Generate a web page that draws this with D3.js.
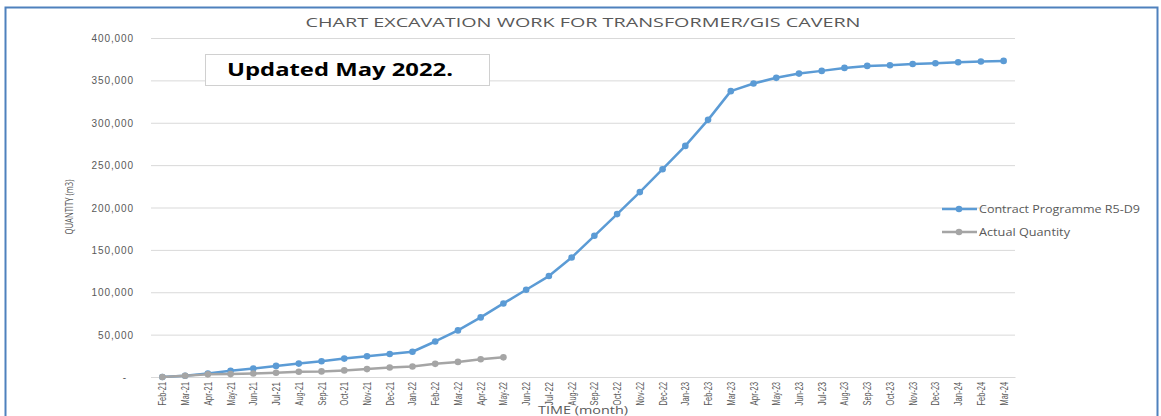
<!DOCTYPE html>
<html>
<head>
<meta charset="UTF-8">
<title>Excavation chart</title>
<script src="https://d3js.org/d3.v7.min.js"></script>
<style>
body { margin: 0; background: #fff; }
svg { font-family: "Open Sans", "DejaVu Sans", sans-serif; }
.grid line { stroke: #d9d9d9; stroke-width: 1; }
</style>
</head>
<body>
<svg width="1161" height="416"></svg>
<script>
// months on the x axis
var months = ["Feb-21","Mar-21","Apr-21","May-21","Jun-21","Jul-21","Aug-21","Sep-21","Oct-21","Nov-21","Dec-21",
  "Jan-22","Feb-22","Mar-22","Apr-22","May-22","Jun-22","Jul-22","Aug-22","Sep-22","Oct-22","Nov-22","Dec-22",
  "Jan-23","Feb-23","Mar-23","Apr-23","May-23","Jun-23","Jul-23","Aug-23","Sep-23","Oct-23","Nov-23","Dec-23",
  "Jan-24","Feb-24","Mar-24"];

// Contract Programme R5-D9 (m3, cumulative)
var contractQty = [0, 1500, 4200, 7300, 10000, 13100, 15800, 18600, 21700, 24400, 27100,
  29800, 41900, 55000, 70300, 86800, 103000, 119100, 141000, 166600, 192200, 218200, 245200,
  272700, 303400, 337300, 346300, 353000, 358000, 361200, 364700, 367100, 367900, 369400, 370200,
  371400, 372200, 373000];

// Actual Quantity (up to May-22)
var actualQty = [0, 1500, 3100, 3400, 4200, 5000, 6200, 6600, 7800, 9300, 11200,
  12400, 15500, 17800, 20900, 23200];

var yTicks = [0, 50000, 100000, 150000, 200000, 250000, 300000, 350000, 400000];

var svg = d3.select("svg");

// outer frame
svg.append("rect")
  .attr("x", 5.5).attr("y", 7.5)
  .attr("width", 1152).attr("height", 420)
  .attr("fill", "none")
  .attr("stroke", "#4f81bd")
  .attr("stroke-width", 2);

var margin = {top: 38, left: 151},
    width = 864,
    height = 339;

var g = svg.append("g")
  .attr("transform", "translate(" + margin.left + "," + margin.top + ")");

var x = d3.scalePoint()
  .domain(months)
  .range([0, width])
  .padding(0.5);

var y = d3.scaleLinear()
  .domain([0, 400000])
  .range([height, 0]);

// gridlines + y labels
var yAxis = g.append("g")
  .attr("class", "grid")
  .call(d3.axisLeft(y)
    .tickValues(yTicks)
    .tickSize(-width)
    .tickPadding(17)
    .tickFormat(function(d) { return d === 0 ? "-" : d3.format(",")(d); }));
yAxis.select(".domain").remove();
yAxis.selectAll("text")
  .attr("fill", "#595959")
  .style("font-size", "10px")
  .style("letter-spacing", "0.9px")
  .attr("dy", "0.35em");
yAxis.selectAll(".tick")
  .filter(function(d) { return d === 0; })
  .select("text").attr("x", -24);

// x axis, narrow rotated month labels
var xAxis = g.append("g")
  .attr("transform", "translate(0," + height + ")")
  .call(d3.axisBottom(x).tickSize(0).tickPadding(0));
xAxis.select(".domain").attr("stroke", "#d9d9d9");
xAxis.selectAll("text")
  .attr("transform", "rotate(-90)")
  .attr("text-anchor", "end")
  .attr("x", -5)
  .attr("y", 0)
  .attr("dy", "0.35em")
  .attr("fill", "#595959")
  .style("font-size", "10px")
  .attr("textLength", function(d) { return d.length * 3.9; })
  .attr("lengthAdjust", "spacingAndGlyphs");

// lines
var line = d3.line()
  .x(function(d, i) { return x(months[i]); })
  .y(function(d) { return y(d); });

function drawSeries(values, color) {
  g.append("path")
    .datum(values)
    .attr("fill", "none")
    .attr("stroke", color)
    .attr("stroke-width", 2.5)
    .attr("stroke-linejoin", "round")
    .attr("d", line);
  g.selectAll(null)
    .data(values)
    .enter().append("circle")
    .attr("cx", function(d, i) { return x(months[i]); })
    .attr("cy", function(d) { return y(d); })
    .attr("r", 3.3)
    .attr("fill", color);
}
drawSeries(contractQty, "#5b9bd5");
drawSeries(actualQty, "#a5a5a5");

// title
svg.append("text")
  .attr("x", 583).attr("y", 27)
  .attr("text-anchor", "middle")
  .attr("fill", "#595959")
  .style("font-size", "13px")
  .attr("textLength", 555)
  .attr("lengthAdjust", "spacingAndGlyphs")
  .text("CHART EXCAVATION WORK FOR TRANSFORMER/GIS CAVERN");

// axis titles
svg.append("text")
  .attr("transform", "translate(73,207) rotate(-90)")
  .attr("text-anchor", "middle")
  .attr("fill", "#595959")
  .style("font-size", "10px")
  .attr("textLength", 55)
  .attr("lengthAdjust", "spacingAndGlyphs")
  .text("QUANTITY (m3)");

svg.append("text")
  .attr("x", 583).attr("y", 414)
  .attr("text-anchor", "middle")
  .attr("fill", "#595959")
  .style("font-size", "11px")
  .attr("textLength", 90)
  .attr("lengthAdjust", "spacingAndGlyphs")
  .text("TIME (month)");

// updated note
svg.append("rect")
  .attr("x", 205.5).attr("y", 54.5)
  .attr("width", 284).attr("height", 31)
  .attr("fill", "#fff")
  .attr("stroke", "#d0d0d0");
svg.append("text")
  .attr("x", 227).attr("y", 76)
  .attr("fill", "#000")
  .style("font-size", "17px")
  .style("font-weight", "bold")
  .attr("textLength", 226)
  .attr("lengthAdjust", "spacingAndGlyphs")
  .text("Updated May 2022.");

// legend
var legend = [
  {name: "Contract Programme R5-D9", color: "#5b9bd5", y: 209, w: 161},
  {name: "Actual Quantity", color: "#a5a5a5", y: 232, w: 91}
];
legend.forEach(function(l) {
  svg.append("line")
    .attr("x1", 942).attr("x2", 977)
    .attr("y1", l.y).attr("y2", l.y)
    .attr("stroke", l.color).attr("stroke-width", 2.5);
  svg.append("circle")
    .attr("cx", 959).attr("cy", l.y).attr("r", 3.3)
    .attr("fill", l.color);
  svg.append("text")
    .attr("x", 979).attr("y", l.y)
    .attr("dy", "0.35em")
    .attr("fill", "#595959")
    .style("font-size", "10px")
    .attr("textLength", l.w)
    .attr("lengthAdjust", "spacingAndGlyphs")
    .text(l.name);
});
</script>
</body>
</html>
